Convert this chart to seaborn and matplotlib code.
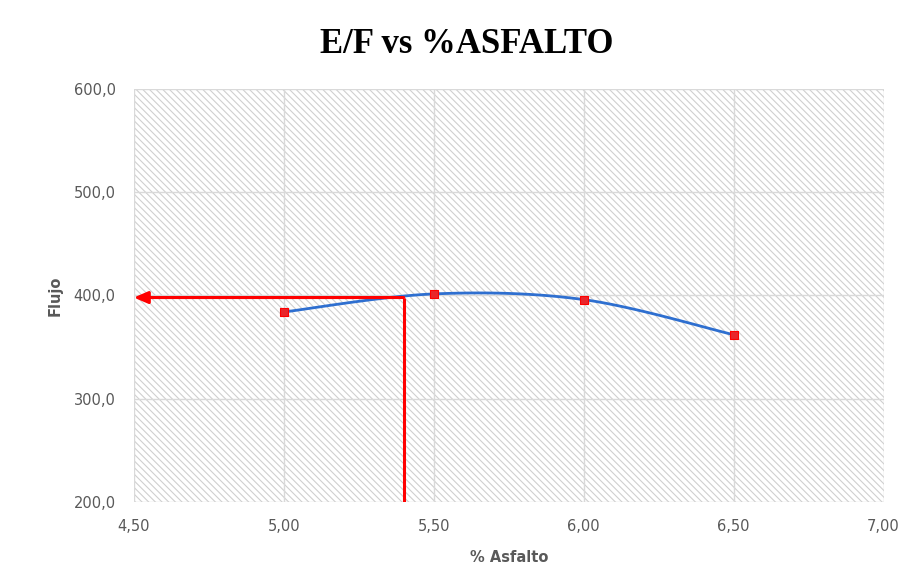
import numpy as np
import pandas as pd
import matplotlib
matplotlib.use("Agg")
import matplotlib.pyplot as plt
import seaborn as sns
from matplotlib.patches import Rectangle

# Data
asfalto = [5.0, 5.5, 6.0, 6.5]
flujo = [384.0, 401.5, 396.0, 362.0]
opt_asfalto = 5.40
opt_flujo = 398.0
x_ticks = [4.5, 5.0, 5.5, 6.0, 6.5, 7.0]
y_ticks = [200, 300, 400, 500, 600]

sns.set_theme(style="white")
plt.rcParams['hatch.linewidth'] = 0.8
plt.rcParams['hatch.color'] = '#cfcfcf'

fig = plt.figure(figsize=(9.1, 5.88), dpi=100)
ax = fig.add_axes([0.147, 0.146, 0.824, 0.703])
ax.set_xlim(4.5, 7.0)
ax.set_ylim(200, 600)

# hatched background
bg = Rectangle((0, 0), 1, 1, transform=ax.transAxes, facecolor='white',
               edgecolor='#cfcfcf', hatch='\\\\\\\\\\', linewidth=0, zorder=0)
ax.add_patch(bg)

for xv in x_ticks:
    ax.axvline(xv, color='#d9d9d9', lw=1.0, zorder=1)
for yv in y_ticks:
    ax.axhline(yv, color='#d9d9d9', lw=1.0, zorder=1)

# Excel-like smoothed line (Catmull-Rom Bezier)
P = np.column_stack([asfalto, flujo])
n = len(P)
xs, ys = [], []
t = np.linspace(0, 1, 40)
for i in range(n - 1):
    p0 = P[max(i - 1, 0)]
    p1 = P[i]
    p2 = P[i + 1]
    p3 = P[min(i + 2, n - 1)]
    b1 = p1 + (p2 - p0) / 6
    b2 = p2 - (p3 - p1) / 6
    seg = ((1 - t) ** 3)[:, None] * p1 + (3 * (1 - t) ** 2 * t)[:, None] * b1 \
        + (3 * (1 - t) * t ** 2)[:, None] * b2 + (t ** 3)[:, None] * p2
    xs.extend(seg[:, 0]); ys.extend(seg[:, 1])
curve = pd.DataFrame({'x': xs, 'y': ys})
sns.lineplot(data=curve, x='x', y='y', ax=ax, color='#2E6FD0', lw=2.0,
             sort=False, estimator=None, zorder=3)

pts = pd.DataFrame({'x': asfalto, 'y': flujo})
sns.scatterplot(data=pts, x='x', y='y', ax=ax, marker='s', s=30,
                color='#E8262B', edgecolor='#FF0000', linewidth=0.8, zorder=4)

# red construction lines
ax.plot([opt_asfalto, opt_asfalto], [200, opt_flujo], color='#FF0000', lw=2.2,
        zorder=5, solid_capstyle='butt')
ax.annotate('', xy=(4.5, opt_flujo), xytext=(opt_asfalto, opt_flujo),
            arrowprops=dict(arrowstyle='-|>,head_length=0.7,head_width=0.3',
                            color='#FF0000', lw=2.2, shrinkA=0, shrinkB=0),
            zorder=5)

for s in ax.spines.values():
    s.set_visible(False)

ax.set_xticks(x_ticks)
ax.set_xticklabels([f"{v:.2f}".replace('.', ',') for v in x_ticks])
ax.set_yticks(y_ticks)
ax.set_yticklabels([f"{v:.1f}".replace('.', ',') for v in y_ticks])
ax.tick_params(axis='both', length=0, labelsize=10.5, colors='#595959')
ax.tick_params(axis='x', pad=12)
ax.tick_params(axis='y', pad=13)

ax.set_xlabel('% Asfalto', fontsize=10.5, fontweight='bold', color='#595959', labelpad=12)
ax.set_ylabel('Flujo', fontsize=10.5, fontweight='bold', color='#595959', labelpad=8)

fig.text(0.513, 0.925, 'E/F vs %ASFALTO', ha='center', va='center',
         fontsize=25, fontweight='bold', family='Liberation Serif', color='black')

fig.savefig('out.png', dpi=100)
